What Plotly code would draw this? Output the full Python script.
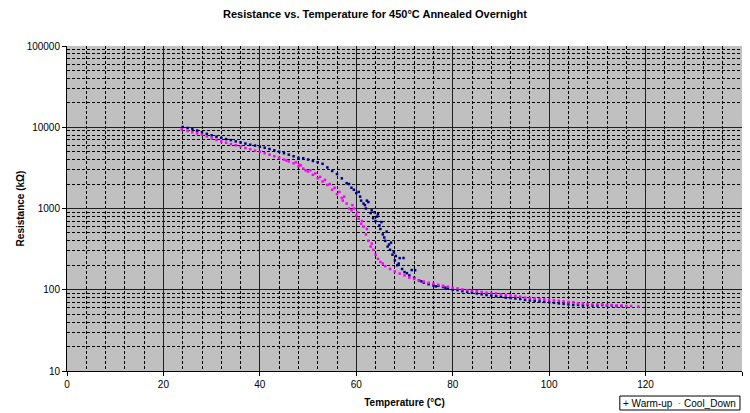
import plotly.graph_objects as go

# Warm-up series (temperature °C, resistance kΩ)
warm_T = [24.0, 25, 26, 27, 28, 29, 30, 31, 32, 33, 34, 35, 36, 37, 38, 39, 40, 41, 42, 43, 44, 45,
          46, 47, 48, 49, 50, 51, 52, 53, 54, 55, 56, 57, 58, 59, 60, 60.5, 61, 61.5, 62, 62.5, 63,
          63.5, 64, 64.3, 64.5, 65, 65.5, 66, 66.3, 66.5, 67, 67.5, 68, 68.5, 69, 69.5, 69.8, 70, 71,
          71.5, 72, 72.2, 73, 74, 75, 76, 77, 78, 79, 80, 81, 82, 83, 84, 85, 86, 87, 88, 89, 90,
          91, 92, 93, 94, 95, 96, 97, 98, 99, 100, 101, 102, 103, 104, 105, 106, 107, 108, 109, 110,
          111, 112, 113, 114, 115,
          58.5, 59.5, 60.8, 61.8, 62.2, 63.2, 63.8, 64.8, 65.2, 65.8, 66.8, 67.2, 67.8, 68.2, 68.8,
          70.5, 73.5, 76.5, 78.5]
warm_R = [10100, 9800, 9500, 9100, 8700, 8300, 7950, 7650, 7400, 7150, 6950, 6700, 6500, 6300, 6100,
          5950, 5770, 5600, 5400, 5200, 5000, 4800, 4600, 4400, 4200, 4150, 4000, 3850, 3700, 3550,
          3200, 2900, 2650, 2350, 2050, 1800, 1550, 1600, 1250, 1150, 1000, 1200, 880, 760, 700, 795,
          850, 560, 480, 400, 519, 340, 310, 270, 230, 200, 245, 180, 246, 165, 150, 175, 140, 174,
          130, 122, 117, 113, 112, 108, 104, 100, 99, 96, 94, 92, 90, 88, 86, 85, 83, 82, 80, 79, 78,
          77, 75, 74, 73, 72, 71, 70, 69, 68, 67, 66, 65, 65, 64, 65, 64, 64, 65, 64, 64, 63, 63,
          2000, 1700, 1400, 1100, 1250, 950, 900, 620, 680, 440, 360, 380, 290, 260, 210,
          160, 127, 110, 106]

# Cool-down series
cool_T = [23.8, 25, 26, 27, 28, 29, 30, 31, 32, 33, 34, 35, 36, 37, 38, 39, 40, 41, 42, 43, 44, 45,
          46, 47, 47.5, 48, 48.5, 49, 50, 50.5, 51, 51.5, 52, 53, 53.5, 54, 55, 55.5, 56, 56.5, 57,
          57.5, 58, 58.5, 59, 59.5, 60, 60.5, 61, 61.5, 62, 62.5, 63, 63.5, 64, 64.5, 65, 65.5, 66,
          67, 68, 69, 70, 71, 72, 73, 74, 75, 76, 77, 78, 79, 80, 82, 84, 86, 88, 90, 92, 94, 96, 98,
          100, 102, 104, 106, 108, 110, 112, 114, 116, 118.5,
          81, 83, 85, 87, 89, 91, 93, 95, 97, 99, 101, 103, 105, 107, 109, 111, 113, 115, 117,
          45.5, 48.2, 49.5, 52.5, 54.5, 57.2, 59.2, 60.2, 61.2, 62.2, 63.2]
cool_R = [9400, 9000, 8700, 8400, 8100, 7700, 7300, 7000, 6700, 6450, 6200, 6000, 5800, 5550, 5350,
          5150, 5000, 4800, 4600, 4400, 4200, 4000, 3800, 3600, 3700, 3300, 3400, 3100, 2850, 2950,
          2600, 2700, 2350, 2150, 2250, 1950, 1700, 1800, 1500, 1600, 1350, 1400, 1150, 1000, 950,
          1000, 820, 750, 650, 600, 480, 400, 340, 310, 270, 240, 220, 210, 195, 180, 168, 158, 150,
          141, 136, 130, 126, 122, 119, 115, 112, 109, 106, 101, 97, 94, 91, 88, 85, 82, 79, 77, 75,
          73, 71, 68, 67, 66, 65, 64, 63, 62,
          104, 99, 96, 92, 90, 86, 84, 80, 78, 76, 74, 72, 70, 68, 66, 66, 65, 64, 63,
          3900, 3450, 2950, 2450, 2000, 1250, 1100, 900, 700, 560, 370]

y_ticks = [10, 100, 1000, 10000, 100000]
y_labels = ["10", "100", "1000", "10000", "100000"]

fig = go.Figure()
fig.add_trace(go.Scatter(x=warm_T, y=warm_R, mode="markers", name="Warm-up",
                         marker=dict(symbol="square", size=2.5, color="#000080", line=dict(width=0))))
fig.add_trace(go.Scatter(x=cool_T, y=cool_R, mode="markers", name="Cool_Down",
                         marker=dict(symbol="square", size=2.5, color="#FF00FF", line=dict(width=0))))

font_family = "Liberation Sans, Arial, sans-serif"
grid_dash = "3px,2px"
fig.update_layout(
    width=750, height=413,
    margin=dict(l=67, r=8, t=46, b=42, autoexpand=False),
    paper_bgcolor="white", plot_bgcolor="#C0C0C0",
    font=dict(family=font_family, size=10, color="black"),
    title=dict(text="<b>Resistance vs. Temperature for 450°C Annealed Overnight</b>",
               x=0.5, xanchor="center", y=0.975, yanchor="top", font=dict(size=11)),
    showlegend=False,
    xaxis=dict(range=[0, 140], dtick=20, tick0=0, showline=True, linecolor="black", linewidth=1,
               ticks="outside", ticklen=4, tickcolor="black", showgrid=True, gridcolor="#202020",
               gridwidth=1, zeroline=False, automargin=False,
               minor=dict(dtick=4, showgrid=True, gridcolor="black", griddash=grid_dash, gridwidth=1),
               title=dict(text="<b>Temperature (°C)</b>", font=dict(size=10), standoff=9)),
    yaxis=dict(type="log", range=[1, 5], tickvals=y_ticks, ticktext=y_labels, showline=True,
               linecolor="black", linewidth=1, ticks="outside", ticklen=4, tickcolor="black",
               showgrid=True, gridcolor="#202020", gridwidth=1, zeroline=False, automargin=False,
               minor=dict(dtick="D1", showgrid=True, gridcolor="black", griddash=grid_dash, gridwidth=1),
               title=dict(text="<b>Resistance (kΩ)</b>", font=dict(size=10), standoff=0)),
)

# Legend drawn as a boxed text line below the plot, bottom right
fig.add_shape(type="rect", xref="paper", yref="paper", x0=0.819, x1=0.997, y0=-0.12, y1=-0.077,
              line=dict(color="black", width=1), fillcolor="white")
fig.add_annotation(xref="paper", yref="paper", x=0.908, y=-0.0985, xanchor="center", yanchor="middle",
                   showarrow=False, font=dict(size=10),
                   text="<span style='color:#000080'>+</span> Warm-up  "
                        "<span style='color:#FF00FF'>·</span> Cool_Down")

fig.write_html("out.html", config={"displayModeBar": False},
               post_script="document.body.style.margin='0';")
